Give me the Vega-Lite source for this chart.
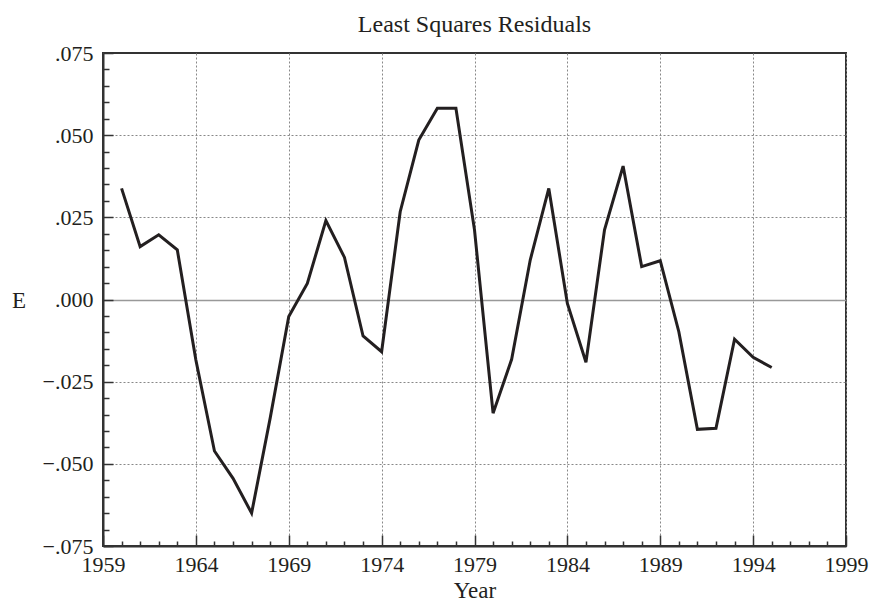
{
  "$schema": "https://vega.github.io/schema/vega-lite/v6.json",
  "autosize": {"type": "none"},
  "padding": {"left": 103, "top": 53, "right": 26, "bottom": 56},
  "width": 743,
  "height": 493,
  "title": {"text": "Least Squares Residuals", "frame": "group", "baseline": "alphabetic", "offset": -14, "fontSize": 24, "fontWeight": "normal", "font": "Liberation Serif", "color": "#231f20"},
  "config": {
    "font": "Liberation Serif",
    "view": {"stroke": "#333333", "strokeWidth": 2}
  },
  "data": {"values": [
    {"Year": 1960, "E": 0.0338}, {"Year": 1961, "E": 0.0161}, {"Year": 1962, "E": 0.0197},
    {"Year": 1963, "E": 0.0151}, {"Year": 1964, "E": -0.0184}, {"Year": 1965, "E": -0.0461},
    {"Year": 1966, "E": -0.0544}, {"Year": 1967, "E": -0.0650}, {"Year": 1968, "E": -0.0361},
    {"Year": 1969, "E": -0.0052}, {"Year": 1970, "E": 0.0049}, {"Year": 1971, "E": 0.0240},
    {"Year": 1972, "E": 0.0128}, {"Year": 1973, "E": -0.0111}, {"Year": 1974, "E": -0.0159},
    {"Year": 1975, "E": 0.0267}, {"Year": 1976, "E": 0.0485}, {"Year": 1977, "E": 0.0582},
    {"Year": 1978, "E": 0.0582}, {"Year": 1979, "E": 0.0212}, {"Year": 1980, "E": -0.0346},
    {"Year": 1981, "E": -0.0182}, {"Year": 1982, "E": 0.0120}, {"Year": 1983, "E": 0.0338},
    {"Year": 1984, "E": -0.0012}, {"Year": 1985, "E": -0.0191}, {"Year": 1986, "E": 0.0212},
    {"Year": 1987, "E": 0.0406}, {"Year": 1988, "E": 0.0100}, {"Year": 1989, "E": 0.0118},
    {"Year": 1990, "E": -0.0098}, {"Year": 1991, "E": -0.0395}, {"Year": 1992, "E": -0.0392},
    {"Year": 1993, "E": -0.0121}, {"Year": 1994, "E": -0.0176}, {"Year": 1995, "E": -0.0207}
  ]},
  "mark": {"type": "line", "color": "#231f20", "strokeWidth": 3, "strokeJoin": "miter"},
  "encoding": {
    "x": {
      "field": "Year", "type": "quantitative",
      "scale": {"domain": [1959, 1999], "nice": false, "zero": false},
      "axis": {
        "title": "Year",
        "titleFontSize": 23, "titleFontWeight": "normal", "titleColor": "#231f20",
        "titleBaseline": "alphabetic", "titleY": 51,
        "values": [1959,1960,1961,1962,1963,1964,1965,1966,1967,1968,1969,1970,1971,1972,1973,1974,1975,1976,1977,1978,1979,1980,1981,1982,1983,1984,1985,1986,1987,1988,1989,1990,1991,1992,1993,1994,1995,1996,1997,1998,1999],
        "labelExpr": "(datum.value - 1959) % 5 == 0 ? datum.value : ''",
        "labelFontSize": 22, "labelColor": "#231f20", "labelBaseline": "alphabetic",
        "labelPadding": 36, "labelFlush": false, "labelOverlap": false,
        "domainColor": "#333333", "domainWidth": 2,
        "tickColor": "#333333", "tickWidth": 1.5,
        "tickSize": {"condition": {"test": "(datum.value - 1959) % 5 == 0", "value": -11}, "value": -5},
        "grid": true,
        "gridColor": "#888888", "gridDash": [2, 2], "gridWidth": 1,
        "gridOpacity": {"condition": {"test": "(datum.value - 1959) % 5 == 0", "value": 1}, "value": 0}
      }
    },
    "y": {
      "field": "E", "type": "quantitative",
      "scale": {"domain": [-0.075, 0.075], "nice": false, "zero": false},
      "axis": {
        "title": "E",
        "titleAngle": 0, "titleAlign": "center", "titleBaseline": "alphabetic",
        "titleX": -84.5, "titleY": 254.7,
        "titleFontSize": 23, "titleFontWeight": "normal", "titleColor": "#231f20",
        "values": [-0.075,-0.07,-0.065,-0.06,-0.055,-0.05,-0.045,-0.04,-0.035,-0.03,-0.025,-0.02,-0.015,-0.01,-0.005,0,0.005,0.01,0.015,0.02,0.025,0.03,0.035,0.04,0.045,0.05,0.055,0.06,0.065,0.07,0.075],
        "labelExpr": "abs(round(datum.value*1000)) % 25 == 0 ? replace(format(datum.value, '.3f'), '0.', '.') : ''",
        "labelFontSize": 22, "labelColor": "#231f20",
        "labelPadding": 20, "labelFlush": false, "labelOverlap": false,
        "domainColor": "#333333", "domainWidth": 2,
        "tickColor": "#333333", "tickWidth": 1.5,
        "tickSize": {"condition": {"test": "abs(round(datum.value*1000)) % 25 == 0", "value": -10}, "value": -6},
        "grid": true,
        "gridColor": {"condition": {"test": "datum.value == 0", "value": "#999999"}, "value": "#888888"},
        "gridDash": {"condition": {"test": "datum.value == 0", "value": []}, "value": [2, 2]},
        "gridWidth": {"condition": {"test": "datum.value == 0", "value": 1.5}, "value": 1},
        "gridOpacity": {"condition": {"test": "abs(round(datum.value*1000)) % 25 == 0 && abs(datum.value) < 0.07", "value": 1}, "value": 0}
      }
    }
  }
}
